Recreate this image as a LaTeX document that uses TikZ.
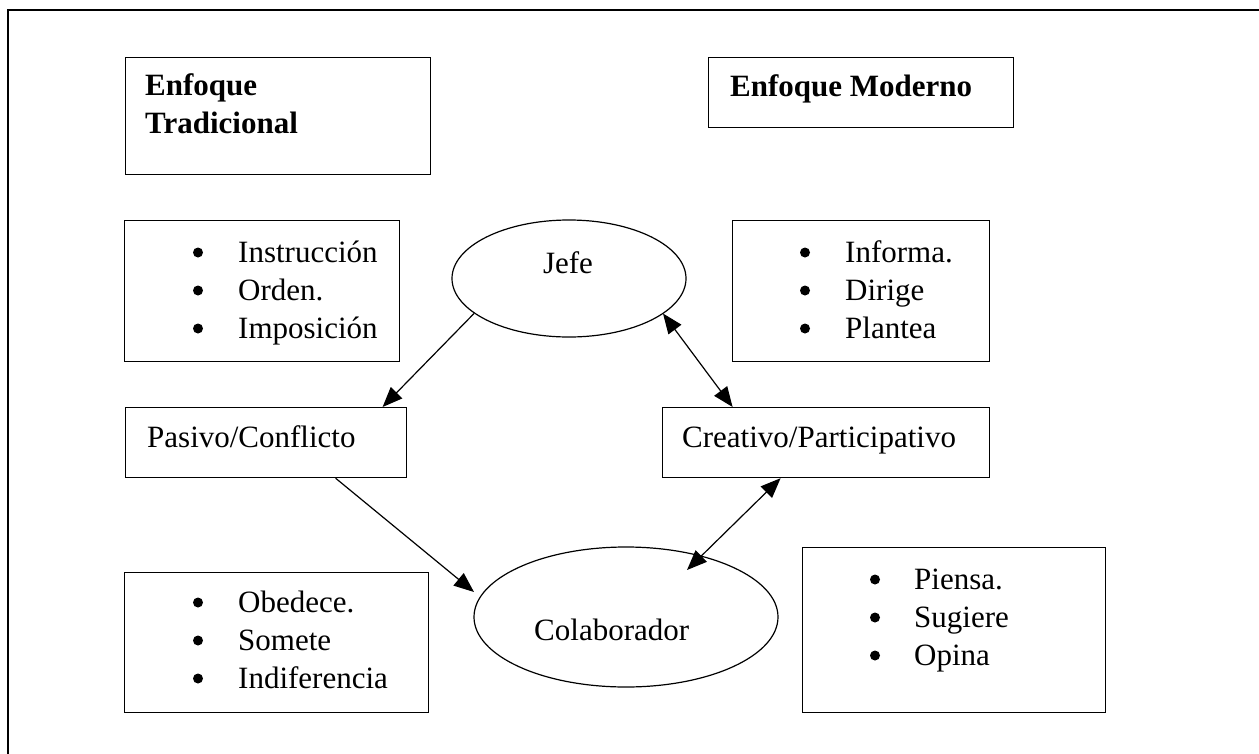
\documentclass[tikz,border=0pt]{standalone}
\usepackage{fontspec}
\setmainfont{Liberation Serif}
\usetikzlibrary{arrows.meta,calc,shapes.geometric}

\begin{document}
\begin{tikzpicture}[x=1pt,y=-1pt,
  box/.style={draw, line width=1.2pt, rectangle, inner sep=0pt, anchor=north west},
  oval/.style={draw, line width=1.2pt, ellipse, inner sep=0pt},
  txt/.style={inner sep=0pt, anchor=base west, font=\fontsize{31}{38}\selectfont},
  ttl/.style={txt, font=\fontsize{31}{38}\selectfont\bfseries},
  arr/.style={line width=1.2pt, -{Triangle[length=20pt,width=16pt]}},
  darr/.style={line width=1.2pt, {Triangle[length=20pt,width=16pt]}-{Triangle[length=20pt,width=16pt]}},
]
\useasboundingbox (0,0) rectangle (1259,753);
\fill[white] (0,0) rectangle (1259,753);

% outer frame (runs off the right and bottom edges)
\draw[line width=1.8pt] (8,10) rectangle (1290,790);

% headings
\node[box, minimum width=305pt, minimum height=117pt] (tradbox) at (125,57) {};
\node[ttl] (tradA) at (145,95) {Enfoque};
\node[ttl] (tradB) at (145,133) {Tradicional};
\node[box, minimum width=305pt, minimum height=70pt] (modbox) at (708,57) {};
\node[ttl] (modtxt) at (730,96) {Enfoque Moderno};

% bullet lists: text column, round bullets drawn beside each line
\newcommand{\tlist}[3]{\begin{tabular}[t]{@{}l@{}}#1\\#2\\#3\end{tabular}}
\node[box, minimum width=275pt, minimum height=141pt] (ltop) at (124,220) {};
\node[txt] (ltoptxt) at (238,262) {\tlist{Instrucción}{Orden.}{Imposición}};
\node[box, minimum width=257pt, minimum height=141pt] (rtop) at (732,220) {};
\node[txt] (rtoptxt) at (845,262) {\tlist{Informa.}{Dirige}{Plantea}};
\node[box, minimum width=304pt, minimum height=140pt] (lbot) at (124,572) {};
\node[txt] (lbottxt) at (238,612) {\tlist{Obedece.}{Somete}{Indiferencia}};
\node[box, minimum width=303pt, minimum height=165pt] (rbot) at (802,547) {};
\node[txt] (rbottxt) at (914,589) {\tlist{Piensa.}{Sugiere}{Opina}};

\foreach \bx/\by in {198/262, 805/262, 198/612, 875/589}
  \foreach \k in {0,1,2}
    \fill ({\bx},{\by-9.5+38*\k}) circle (5pt);

% ellipses
\node[oval, minimum width=234pt, minimum height=117pt] (jefe) at (569,278.5) {};
\node[txt, anchor=base] (jefetxt) at (568,273) {Jefe};
\node[oval, minimum width=304pt, minimum height=140pt] (colab) at (626,617) {};
\node[txt] (colabtxt) at (534,640) {Colaborador};

% attitude boxes
\node[box, minimum width=281pt, minimum height=70pt] (pasivo) at (125,407) {};
\node[txt] (pasivotxt) at (147,447) {Pasivo/Conflicto};
\node[box, minimum width=327pt, minimum height=70pt] (creativo) at (662,407) {};
\node[txt] (creativotxt) at (682,447) {Creativo/Participativo};

% connectors
\draw[arr] ($(jefe.center)+(-95,35)$) -- ($(pasivo.north)+(116.5,0)$);
\draw[darr] ($(jefe.center)+(94,35)$) -- ($(creativo.north)+(-93.5,0)$);
\draw[arr] ($(pasivo.south)+(69.5,0)$) -- ($(colab.center)+(-152,-25)$);
\draw[darr] ($(creativo.south)+(-45.5,0)$) -- ($(colab.center)+(61,-47)$);
\end{tikzpicture}
\end{document}
